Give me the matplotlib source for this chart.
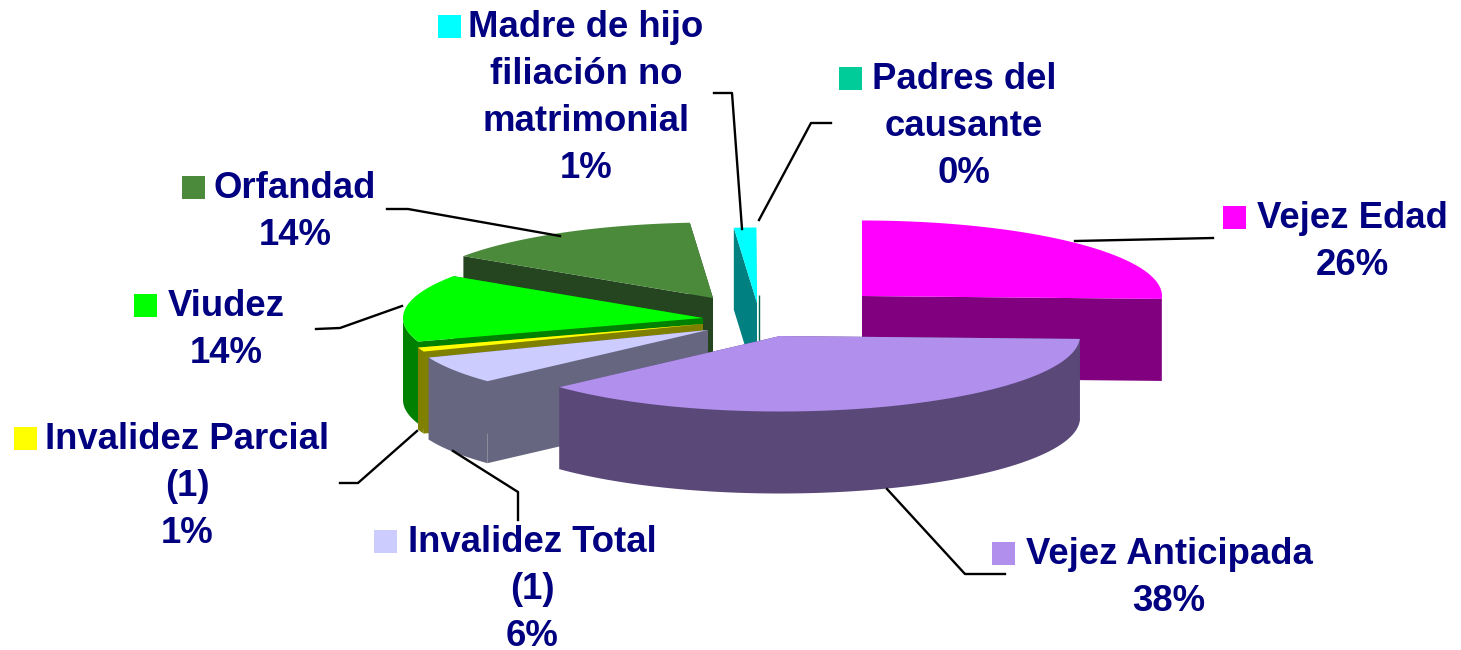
import numpy as np
import matplotlib
matplotlib.use("Agg")
import matplotlib.pyplot as plt

# values, clockwise from 12 o'clock
names = ["Vejez Edad", "Vejez Anticipada", "Invalidez Total", "Invalidez Parcial",
         "Viudez", "Orfandad", "Madre de hijo", "Padres del"]
label_lines = [["Vejez Edad", "26%"],
               ["Vejez Anticipada", "38%"],
               ["Invalidez Total", "(1)", "6%"],
               ["Invalidez Parcial", "(1)", "1%"],
               ["Viudez", "14%"],
               ["Orfandad", "14%"],
               ["Madre de hijo", "filiación no", "matrimonial", "1%"],
               ["Padres del", "causante", "0%"]]
values = [25.6, 37.5, 5.9, 0.9, 14.4, 14.4, 1.2, 0.03]

top_colors = ["#FF00FF", "#B18FEC", "#CCCCFF", "#FFFF00", "#00FF00", "#4A8A3A", "#00FFFF", "#00CC99"]
wall_colors = ["#800080", "#5A4878", "#666680", "#808000", "#008000", "#254520", "#008080", "#006650"]

# layout in pixels of the 1461x650 picture
apex = [(862, 296), (780, 336), (708, 330), (703, 324), (703, 318), (713, 298), (757, 303), (759, 295)]
rx, ry = 300, 75.5
depth = 82
draw_order = [0, 7, 6, 5, 4, 3, 2, 1]

text_x = [1352, 1169, 532, 187, 226, 295, 586, 964]
text_y = [228, 564, 552, 449, 316, 198, 37, 89]
line_step = 47
key_x = [1223, 992, 374, 14, 134, 182, 438, 839]
key_size = 23
leaders = [[(1213, 238), (1075, 241)],
           [(1005, 574), (965, 574), (887, 489)],
           [(453, 451), (518, 492), (518, 520)],
           [(340, 483), (358, 483), (417, 431)],
           [(316, 329), (340, 328), (402, 306)],
           [(387, 209), (408, 209), (560, 236)],
           [(714, 93), (732, 93), (742, 229)],
           [(831, 123), (811, 123), (759, 220)]]

navy = "#000080"
font = "Liberation Sans"


def arc(i, t0, t1):
    t = np.radians(np.linspace(t0, t1, 80))
    return apex[i][0] + rx * np.sin(t), apex[i][1] - ry * np.cos(t)


def draw_slice(ax, i, t0, t1, z):
    ax_, ay = apex[i]
    # nearly empty slice shows up only as a dark line
    if values[i] < 0.1:
        ax.plot([ax_, ax_], [ay, ay + depth], color=wall_colors[i], lw=1,
                solid_capstyle="butt", zorder=z)
        return
    x, y = arc(i, t0, t1)
    for k in (0, -1):
        ax.fill([x[k], x[k], ax_, ax_], [y[k], y[k] + depth, ay + depth, ay],
                color=wall_colors[i], lw=0, zorder=z)
    lo, hi = max(t0, 90), min(t1, 270)
    if lo < hi:
        rim_x, rim_y = arc(i, lo, hi)
        ax.fill(np.r_[rim_x, rim_x[::-1]], np.r_[rim_y, rim_y[::-1] + depth],
                color=wall_colors[i], lw=0, zorder=z)
    ax.fill(np.r_[ax_, x], np.r_[ay, y], color=top_colors[i], lw=0, zorder=z)


fig = plt.figure(figsize=(14.61, 6.5), dpi=100)
ax = fig.add_axes([0, 0, 1, 1])
ax.set_xlim(0, 1461)
ax.set_ylim(650, 0)
ax.axis("off")

edges = np.r_[0, np.cumsum(values)] / np.sum(values) * 360
for z, i in enumerate(draw_order):
    draw_slice(ax, i, edges[i], edges[i + 1], z + 1)

for pts in leaders:
    ax.plot([p[0] for p in pts], [p[1] for p in pts], color="black", lw=1.7, zorder=20)

for i, lines in enumerate(label_lines):
    for j, line in enumerate(lines):
        ax.text(text_x[i], text_y[i] + j * line_step, line, color=navy, family=font,
                fontweight="bold", fontsize=26.3, ha="center", va="baseline", zorder=21)
    ax.fill([key_x[i], key_x[i] + key_size, key_x[i] + key_size, key_x[i]],
            [text_y[i] + 1, text_y[i] + 1, text_y[i] + 1 - key_size, text_y[i] + 1 - key_size],
            color=top_colors[i], lw=0, zorder=21)

fig.savefig("out.png", dpi=100)
